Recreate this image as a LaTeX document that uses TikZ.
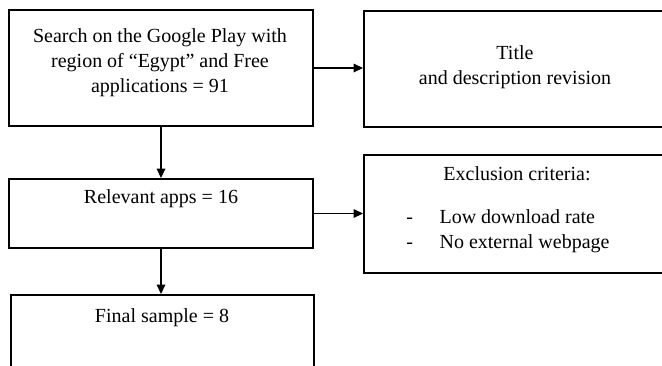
\documentclass[tikz,border=0pt]{standalone}
\usepackage{fontspec}
\setmainfont{Liberation Serif}
\usetikzlibrary{arrows.meta}

\begin{document}
\begin{tikzpicture}[x=0.75pt,y=-0.75pt,
  font=\fontsize{15}{18.75}\selectfont,
  box/.style={draw, line width=1.6pt, inner sep=0pt},
  label/.style={inner sep=0pt, align=center},
  flow/.style={line width=0.9pt, -{Triangle[length=7pt,width=6.5pt]}}]
  \useasboundingbox (0,0) rectangle (662,365);
  \clip (0,0) rectangle (662,365);

  % boxes (right column and the last box run past the page edge)
  \node[box, minimum width=228pt, minimum height=87pt]   (search)  at (161,68)    {};
  \node[box, minimum width=226.5pt, minimum height=87pt] (title)   at (515,69)    {};
  \node[box, minimum width=228pt, minimum height=51.75pt](relevant) at (161,213.5) {};
  \node[box, minimum width=226.5pt, minimum height=88.5pt](excl)   at (515,214)   {};
  \node[box, minimum width=227.25pt, minimum height=75pt](final)   at (162.5,345) {};

  % texts
  \node[label, anchor=north] (searchtxt) at (160,28)
    {Search on the Google Play with\\region of “Egypt” and Free\\applications = 91};
  \node[label, anchor=north] (titletxt) at (515,45)
    {Title\\and description revision};
  \node[label, anchor=base] (reltxt) at (161,203) {Relevant apps = 16};
  \node[label, anchor=base] (excltxt) at (517,180) {Exclusion criteria:};
  \node[label, anchor=north west, align=left] (excllist) at (406,209.5)
    {\makebox[25pt][l]{-}Low download rate\\\makebox[25pt][l]{-}No external webpage};
  \node[label, anchor=base] (finaltxt) at (162,322) {Final sample = 8};

  % connectors
  \draw[flow] (search.east) -- (search.east -| title.west);
  \draw[flow] (search.south) -- (search.south |- relevant.north);
  \draw[flow] (relevant.east) -- (relevant.east -| excl.west);
  \draw[flow] (relevant.south) -- (relevant.south |- final.north);
\end{tikzpicture}
\end{document}
